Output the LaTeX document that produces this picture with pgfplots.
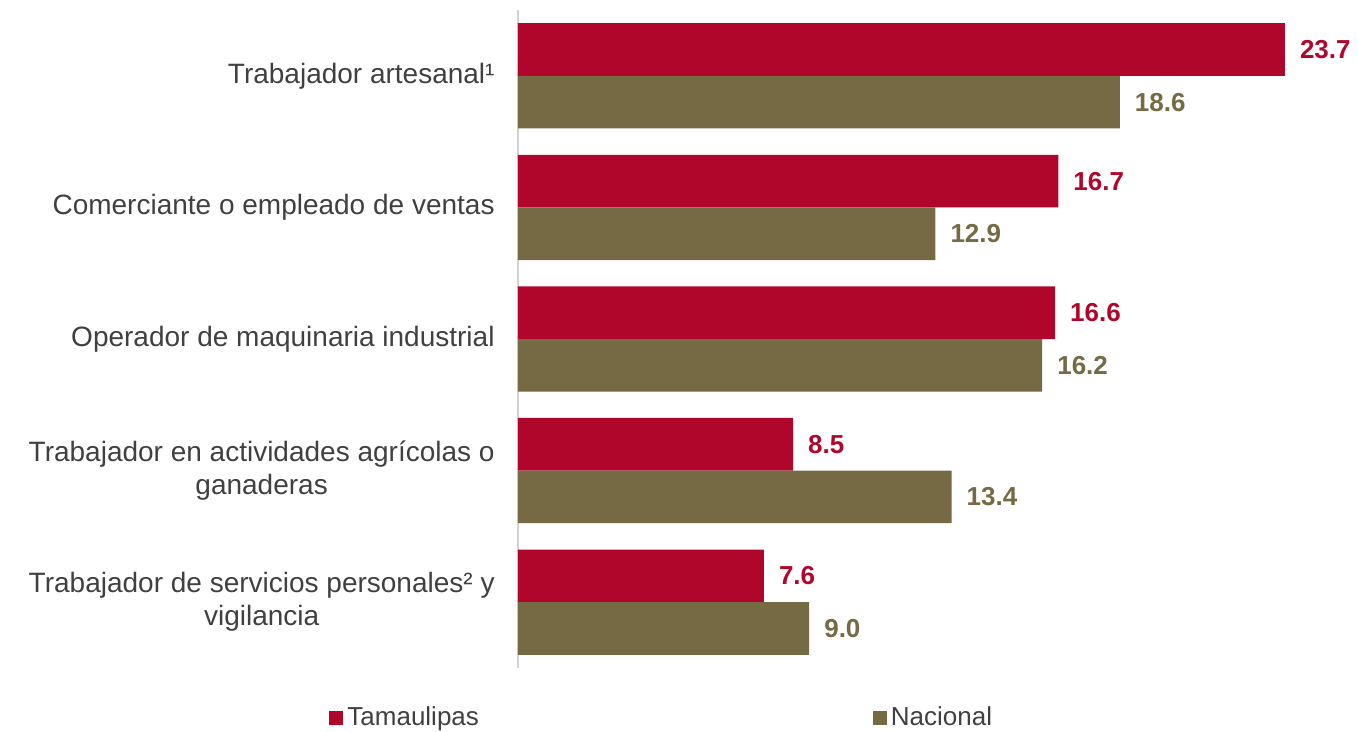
\documentclass[border=0pt]{standalone}
\usepackage{fontspec}
\setmainfont{Liberation Sans}
\usepackage{pgfplots}
\pgfplotsset{compat=1.18}
\definecolor{tred}{HTML}{B0062C}
\definecolor{tolive}{HTML}{756A43}
\definecolor{txt}{HTML}{404040}
\begin{document}
\begin{tikzpicture}
\useasboundingbox (-259pt,-32pt) rectangle (420pt,334pt);
\begin{axis}[
  scale only axis, width=404.5pt, height=329pt,
  xmin=0, xmax=25, ymin=-0.5, ymax=4.5, y dir=reverse,
  xbar, bar width=0.4,
  axis x line=none, axis y line=left,
  y axis line style={-, draw=gray!35, line width=0.6pt},
  ytick={0,1,2,3,4},
  yticklabels={{Trabajador artesanal¹},{Comerciante o empleado de ventas},{Operador de maquinaria industrial},{Trabajador en actividades agrícolas o\\ganaderas},{Trabajador de servicios personales² y\\vigilancia}},
  ytick style={draw=none}, major tick length=0pt,
  yticklabel style={font=\fontsize{14}{16.5}\selectfont, align=center, text=txt, inner sep=0pt, xshift=-11.5pt},
  clip=false,
  nodes near coords, point meta=x,
  /pgf/number format/.cd, fixed, fixed zerofill, precision=1, assume math mode=true, /pgfplots/.cd,
  nodes near coords style={font=\bfseries\fontsize{13}{15}\selectfont, anchor=west, xshift=4pt},
  legend columns=2,
  legend image code/.code={\fill[#1] (0pt,-3.5pt) rectangle (7pt,3.5pt);},
  legend style={at={(-0.2336,-0.076)}, anchor=west, draw=none, fill=none, inner sep=0pt,
    font=\fontsize{13}{15}\selectfont, text=txt,
    /tikz/every even column/.append style={column sep=195pt}},
]
\addplot[fill=tred, draw=none, bar shift=-0.2, every node near coord/.append style={text=tred}]
  coordinates {(23.7,0) (16.7,1) (16.6,2) (8.5,3) (7.6,4)};
\addlegendentry{Tamaulipas}
\addplot[fill=tolive, draw=none, bar shift=0.2, every node near coord/.append style={text=tolive}]
  coordinates {(18.6,0) (12.9,1) (16.2,2) (13.4,3) (9.0,4)};
\addlegendentry{Nacional}
\end{axis}
\end{tikzpicture}
\end{document}
